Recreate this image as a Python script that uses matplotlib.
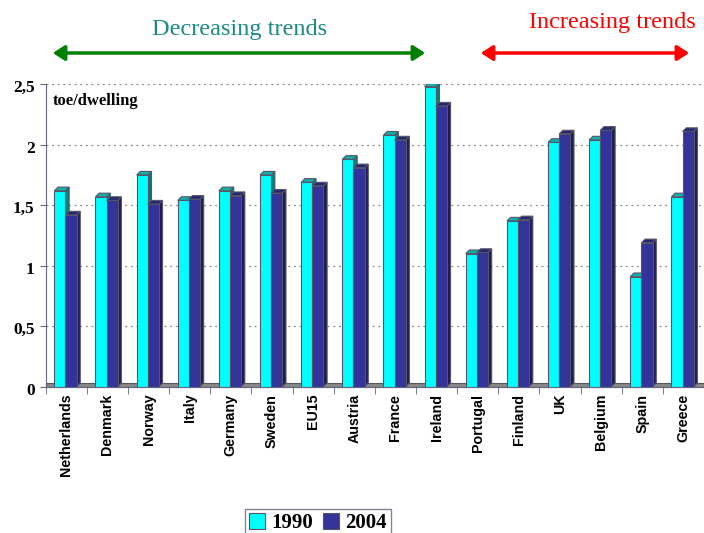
import numpy as np
import matplotlib.pyplot as plt
import matplotlib.transforms as mtransforms
from matplotlib.patches import Polygon, Rectangle, FancyArrowPatch

# Data (toe per dwelling)
countries = ['Netherlands', 'Denmark', 'Norway', 'Italy', 'Germany', 'Sweden', 'EU15',
             'Austria', 'France', 'Ireland', 'Portugal', 'Finland', 'UK', 'Belgium',
             'Spain', 'Greece']
v1990 = [1.62, 1.57, 1.75, 1.54, 1.62, 1.75, 1.69, 1.88, 2.08, 2.48,
         1.10, 1.37, 2.02, 2.04, 0.91, 1.57]
v2004 = [1.42, 1.54, 1.51, 1.55, 1.58, 1.60, 1.66, 1.81, 2.04, 2.32,
         1.11, 1.38, 2.09, 2.12, 1.19, 2.11]
yticks = [0, 0.5, 1, 1.5, 2, 2.5]
ylabels = ['0', '0,5', '1', '1,5', '2', '2,5']

serif = 'Liberation Serif'
sans = 'Liberation Sans'

W, H = 704, 533
fig = plt.figure(figsize=(W / 100, H / 100), dpi=100)
ax = fig.add_axes([45.7 / W, (H - 386.7) / H, (W - 45.7) / W, (386.7 - 84.3) / H])

n = len(countries)
ax.set_xlim(0, (W - 45.7) / 41.3)
ax.set_ylim(0, 2.5)

# 3D offsets in data units
dx, dy = 0.09, 0.03

# floor strip
ax.add_patch(Rectangle((0, 0), n, dy, facecolor='#888888', edgecolor='#555566',
                       lw=0.8, zorder=1, clip_on=False))

def bar3d(x0, w, v, front, top, side):
    x1 = x0 + w
    ax.add_patch(Polygon([(x1, 0), (x1 + dx, dy), (x1 + dx, v + dy), (x1, v)],
                         closed=True, facecolor=side, edgecolor='#555566', lw=0.8, zorder=3))
    ax.add_patch(Polygon([(x0, v), (x0 + dx, v + dy), (x1 + dx, v + dy), (x1, v)],
                         closed=True, facecolor=top, edgecolor='#555566', lw=0.8, zorder=3))
    ax.add_patch(Rectangle((x0, 0), w, v, facecolor=front, edgecolor='#555566',
                           lw=0.8, zorder=3))

bw = 0.27
for i in range(n):
    bar3d(i + 0.21, bw, v1990[i], '#00FFFF', '#10B0B0', '#008080')
    bar3d(i + 0.21 + bw, bw, v2004[i], '#333399', '#262673', '#1c1c50')

# grid
for t in yticks[1:]:
    ax.axhline(t, color='#888888', lw=0.9, ls=(0, (1.5, 3)), zorder=0)

ax.set_yticks(yticks)
ax.set_yticklabels(ylabels, fontfamily=serif, fontweight='bold', fontsize=12.5)
ax.set_xticks(np.arange(n) + 0.5)
ax.set_xticklabels(countries, rotation=90, fontfamily=sans, fontweight='bold', fontsize=10.3)
ax.set_xticks(np.arange(n + 1), minor=True)
ax.tick_params(axis='x', which='major', length=0, pad=5)
ax.tick_params(axis='x', which='minor', length=5, color='#666680')
ax.tick_params(axis='y', length=4, color='#666680', pad=4)
shift = mtransforms.ScaledTranslation(0, -4 / 100, fig.dpi_scale_trans)
for lab in ax.get_yticklabels():
    lab.set_va('center')
    lab.set_transform(lab.get_transform() + shift)

for s in ['top', 'right']:
    ax.spines[s].set_visible(False)
ax.spines['left'].set_color('#666680')
ax.spines['bottom'].set_color('#666680')

ax.text(0.17, 2.36, 'toe/dwelling', fontfamily=serif, fontweight='bold', fontsize=12,
        ha='left', va='center')

# trend annotations
fig.text(240 / W, 1 - 30 / H, 'Decreasing trends', color='#1a8a85', fontfamily=serif,
         fontsize=17.5, ha='center', va='center')
fig.text(612 / W, 1 - 22 / H, 'Increasing trends', color='#ff0000', fontfamily=serif,
         fontsize=17.5, ha='center', va='center')
fig.patches.append(FancyArrowPatch(
    (50 / W, 1 - 53 / H), (428 / W, 1 - 53 / H), transform=fig.transFigure,
    arrowstyle='<|-|>,head_length=7,head_width=4.5', color='#008000', lw=2.5))
fig.patches.append(FancyArrowPatch(
    (478 / W, 1 - 53 / H), (692 / W, 1 - 53 / H), transform=fig.transFigure,
    arrowstyle='<|-|>,head_length=7,head_width=4.5', color='#ff0000', lw=2.5))

# legend
h1 = Rectangle((0, 0), 1, 1, facecolor='#00FFFF', edgecolor='#555566', lw=0.8)
h2 = Rectangle((0, 0), 1, 1, facecolor='#333399', edgecolor='#555566', lw=0.8)
leg = fig.legend([h1, h2], ['1990', '2004'], loc='upper center',
                 bbox_to_anchor=(318 / W, 1 - 505 / H), ncol=2, frameon=True,
                 fancybox=False, handlelength=0.75, handleheight=0.75, handletextpad=0.3,
                 columnspacing=0.5, borderpad=0.2, borderaxespad=0.2,
                 prop={'family': serif, 'weight': 'bold', 'size': 15})
leg.get_frame().set_edgecolor('#666680')
leg.get_frame().set_linewidth(1)

fig.savefig('out.png', dpi=100)
